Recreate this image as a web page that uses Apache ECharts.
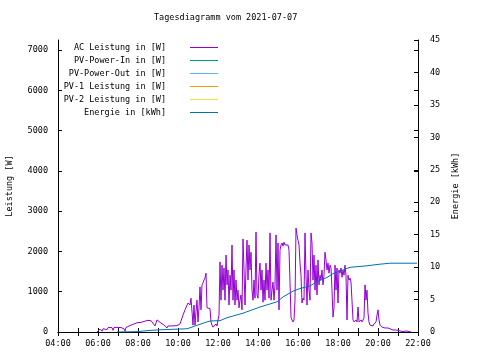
<!DOCTYPE html>
<html><head><meta charset="utf-8">
<script src="https://cdn.jsdelivr.net/npm/echarts@6/dist/echarts.min.js"></script>
<style>html,body{margin:0;padding:0;background:#fff}#c{width:480px;height:360px}</style>
</head><body><div id="c"></div>
<script>
const titleText = "Tagesdiagramm vom 2021-07-07";
const seriesNames = ["AC Leistung in [W]","PV-Power-In in [W]","PV-Power-Out in [W]","PV-1 Leistung in [W]","PV-2 Leistung in [W]","Energie in [kWh]"];
const seriesColors = ["#9400d3","#009e73","#56b4e9","#e69f00","#f0e442","#0072b2"];
const xTickLabels = ["04:00","06:00","08:00","10:00","12:00","14:00","16:00","18:00","20:00","22:00"];

const acTimes = [
 "05:57","06:00","06:06","06:12","06:15","06:21","06:27","06:30","06:36","06:42","06:45","06:48","06:57",
 "07:03","07:09","07:15","07:18","07:21","07:24","07:30","07:36","07:39","07:45","07:51","07:57",
 "08:03","08:09","08:15","08:21","08:30","08:39","08:45","08:51","08:57",
 "09:03","09:09","09:18","09:27","09:30","09:42","09:57",
 "10:06","10:12","10:15","10:21","10:30","10:36","10:39","10:42","10:45","10:48","10:51","10:54","10:57",
 "11:00","11:03","11:06","11:09","11:12","11:15","11:18","11:21","11:24","11:27","11:30","11:33","11:36","11:39","11:42","11:45","11:48","11:51","11:54","11:57",
 "12:00","12:03","12:06","12:09","12:12","12:15","12:18","12:21","12:24","12:27","12:30","12:33","12:36","12:39","12:42","12:45","12:48","12:51","12:54","12:57",
 "13:00","13:03","13:06","13:09","13:12","13:15","13:18","13:21","13:24","13:27","13:30","13:33","13:36","13:39","13:42","13:45","13:48","13:51","13:54","13:57",
 "14:00","14:03","14:06","14:09","14:12","14:15","14:18","14:21","14:24","14:27","14:30","14:33","14:36","14:39","14:42","14:45","14:48","14:51","14:54","14:57",
 "15:00","15:03","15:06","15:09","15:12","15:15","15:18","15:21","15:24","15:27","15:30","15:33","15:36","15:39","15:42","15:45","15:48","15:51","15:54","15:57",
 "16:00","16:03","16:06","16:09","16:12","16:15","16:18","16:21","16:24","16:27","16:30","16:33","16:36","16:39","16:42","16:45","16:48","16:51","16:54","16:57",
 "17:00","17:03","17:06","17:09","17:12","17:15","17:18","17:21","17:24","17:27","17:30","17:33","17:36","17:39","17:42","17:45","17:48","17:51","17:54","17:57",
 "18:00","18:03","18:06","18:09","18:12","18:15","18:18","18:21","18:24","18:27","18:30","18:33","18:36","18:39","18:42","18:45","18:48","18:51","18:54","18:57",
 "19:00","19:03","19:06","19:09","19:12","19:15","19:18","19:21","19:24","19:27","19:30","19:33","19:36","19:39","19:42","19:45","19:48","19:51","19:54","19:57",
 "20:00","20:03","20:06","20:09","20:12","20:15","20:21","20:30","20:36","20:45","20:54",
 "21:06","21:15","21:24","21:33","21:39"
];
const acValues = [
 0,40,70,20,80,90,60,110,100,110,40,110,115,
 120,110,150,80,20,110,150,160,170,190,180,230,
 240,240,260,270,290,280,240,150,300,
 290,220,175,100,150,150,160,
 200,200,420,550,720,670,840,870,170,670,170,500,790,
 250,600,1120,550,1170,1220,1290,1340,1460,600,600,620,580,250,170,120,150,120,200,150,
 300,420,1740,790,1660,1040,1590,790,1910,1170,1540,670,1410,1040,2160,790,1540,670,1290,790,
 1040,600,790,920,550,2310,1540,670,1590,2280,1290,2160,1540,1980,1040,790,1290,840,2480,920,
 840,1410,1710,1040,1540,740,1290,790,1710,1040,1540,840,2460,790,1040,1240,790,1170,2410,1040,
 2210,550,2030,2160,2210,2130,2230,2160,2180,2130,2160,2030,1240,370,300,250,300,790,2580,2410,
 2280,2160,1710,1410,720,840,790,2460,1410,670,1540,1040,790,2460,2210,1290,1910,1040,1660,920,
 1790,1170,1410,1290,1540,1170,1410,1980,1790,1540,1710,1460,1660,1590,1040,370,600,1660,1040,1590,
 720,1540,1460,1590,1360,1540,1410,1660,1410,300,1410,1290,1340,1240,1240,300,250,250,300,250,
 620,250,250,300,250,250,350,1170,790,1040,470,250,170,150,170,150,200,170,250,420,
 550,300,170,200,120,120,100,100,75,50,50,
 25,12,25,12,0
];
const energyTimes = ["06:57","07:57","08:00","08:36","09:12","10:27","10:36","11:06","11:36","12:06","12:27","13:15","14:06","14:57","15:15","15:45","16:06","16:36","16:57","17:27","17:45","18:15","18:36","19:27","19:57","20:36","21:57"];
const energyValues = [0,0.05,0.15,0.25,0.35,0.5,0.65,1.2,1.7,1.75,2.2,2.9,3.85,4.65,5.4,6.3,6.7,7.1,7.75,8.4,9.0,9.55,9.97,10.2,10.4,10.6,10.6];

function toHours(t){const p=t.split(":");return +p[0]+(+p[1])/60;}
const FONT = "DejaVu Sans Mono";
const FS = 8.5;

const chart = echarts.init(document.getElementById('c'), null, {renderer:'canvas'});
const tickLabelOf = v => xTickLabels[Math.round((v-4)/2)] || '';

const seriesData = [
  acTimes.map((t,i)=>[toHours(t), acValues[i]]),
  [],[],[],[],
  energyTimes.map((t,i)=>[toHours(t), energyValues[i]])
];

const legendRows = [48,61,74,87,100,113];
const legends = seriesNames.map((n,i)=>({
  data:[n], orient:'vertical', align:'right', right:262, top:legendRows[i]-5, padding:0,
  icon:'rect', itemWidth:28, itemHeight:1, selectedMode:false,
  textStyle:{fontFamily:FONT,fontSize:FS,color:'#000',padding:[0,19,0,0]}
}));

const axisLineStyle = {show:true, lineStyle:{color:'#000', width:1}};
chart.setOption({
  animation:false,
  backgroundColor:'#fff',
  title:{text:titleText, left:154, top:13, padding:0,
    textStyle:{fontFamily:FONT,fontSize:FS,fontWeight:'normal',color:'#000'}},
  legend: legends,
  grid:{left:58,right:62,top:40,bottom:28,containLabel:false,outerBoundsMode:'none'},
  xAxis:[
    {type:'value',position:'bottom',min:4,max:22,interval:2,
     axisLine:axisLineStyle,
     axisTick:{show:true,inside:true,length:4,lineStyle:{color:'#000'}},
     minorTick:{show:true,splitNumber:2,length:4,lineStyle:{color:'#000'}},
     axisLabel:{formatter:tickLabelOf,fontFamily:FONT,fontSize:FS,color:'#000',margin:7},
     splitLine:{show:false}},
    {type:'value',position:'top',min:4,max:22,interval:2,
     axisLine:axisLineStyle,
     axisTick:{show:true,inside:true,length:4,lineStyle:{color:'#000'}},
     minorTick:{show:true,splitNumber:2,length:4,lineStyle:{color:'#000'}},
     axisLabel:{show:false},splitLine:{show:false}}
  ],
  yAxis:[
    {type:'value',position:'left',min:0,max:7250,interval:1000,
     name:'Leistung [W]',nameLocation:'middle',nameRotate:90,nameGap:44,
     nameTextStyle:{fontFamily:FONT,fontSize:FS,color:'#000'},
     axisLine:axisLineStyle,
     axisTick:{show:true,inside:true,length:4,lineStyle:{color:'#000'}},
     axisLabel:{formatter:v=>String(v),fontFamily:FONT,fontSize:FS,color:'#000',margin:10,showMaxLabel:false},
     splitLine:{show:false}},
    {type:'value',position:'right',min:0,max:45,interval:5,
     name:'Energie [kWh]',nameLocation:'middle',nameRotate:90,nameGap:27,
     nameTextStyle:{fontFamily:FONT,fontSize:FS,color:'#000'},
     axisLine:axisLineStyle,
     axisTick:{show:true,inside:true,length:4,lineStyle:{color:'#000'}},
     axisLabel:{formatter:v=>String(v),fontFamily:FONT,fontSize:FS,color:'#000',margin:12},
     splitLine:{show:false}},
    {type:'value',position:'right',min:0,max:7250,interval:1000,
     axisLine:{show:false},
     axisTick:{show:true,inside:true,length:4,lineStyle:{color:'#000'}},
     axisLabel:{show:false},splitLine:{show:false}}
  ],
  series: seriesNames.map((n,i)=>({
    name:n, type:'line', yAxisIndex: i===5?1:0, xAxisIndex:0,
    data: seriesData[i], showSymbol:false, symbol:'none',
    color: seriesColors[i],
    lineStyle:{color:seriesColors[i], width:1},
    z: i===5?3:2
  }))
});
</script></body></html>
